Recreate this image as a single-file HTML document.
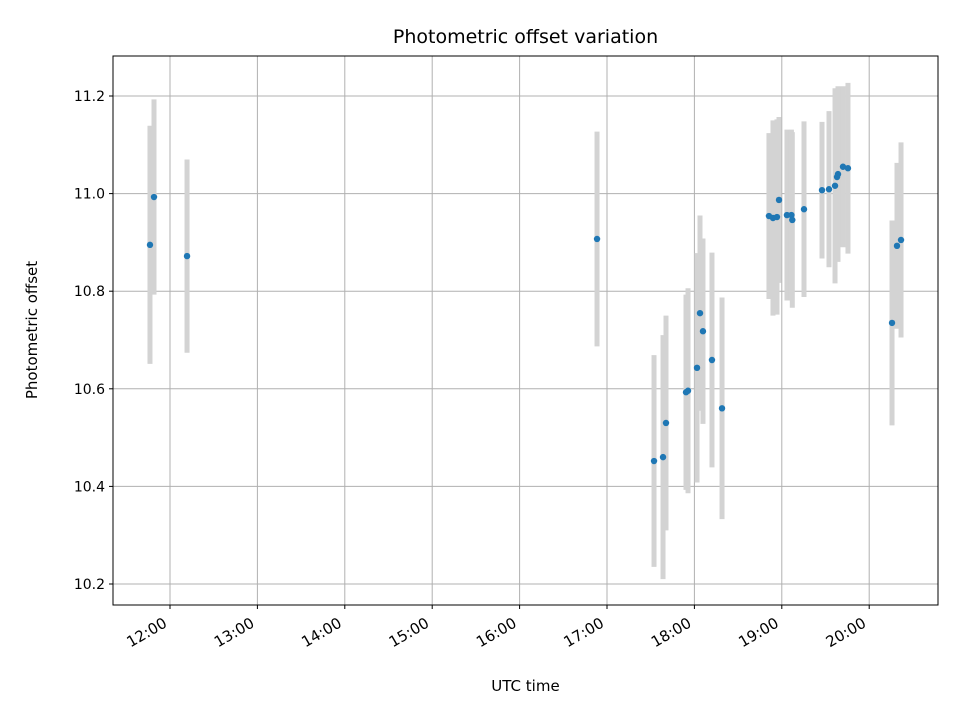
<!DOCTYPE html>
<html><head><meta charset="utf-8"><style>
body{margin:0;background:#fff;}
svg{font-family:"DejaVu Sans","Liberation Sans",sans-serif;}
</style></head><body>
<svg id="chart" width="960" height="720"></svg>
<script>
const times=[11.771,11.817,12.195,16.886,17.538,17.641,17.675,17.904,17.927,18.030,18.064,18.098,18.201,18.316,18.853,18.899,18.945,18.968,19.059,19.11,19.12,19.254,19.460,19.540,19.609,19.632,19.643,19.700,19.757,20.261,20.318,20.364];
const offsets=[10.895,10.993,10.872,10.907,10.452,10.46,10.53,10.593,10.596,10.643,10.755,10.718,10.659,10.56,10.954,10.95,10.952,10.987,10.956,10.956,10.946,10.968,11.007,11.009,11.016,11.034,11.04,11.055,11.052,10.735,10.893,10.905];
const errors=[0.244,0.2,0.198,0.22,0.217,0.25,0.22,0.2,0.21,0.235,0.2,0.19,0.22,0.227,0.17,0.2,0.2,0.17,0.175,0.175,0.18,0.18,0.14,0.16,0.2,0.17,0.18,0.165,0.175,0.21,0.17,0.2];
const yTicks=[10.2,10.4,10.6,10.8,11.0,11.2];
const xTicks=[12,13,14,15,16,17,18,19,20];
const xTickLabels=["12:00","13:00","14:00","15:00","16:00","17:00","18:00","19:00","20:00"];

const L=113,R=938,T=56,B=605;
const X=h=>170+(h-12)*87.4;
const Y=v=>96+(11.2-v)*488;
const svg=document.getElementById('chart');
const NS="http://www.w3.org/2000/svg";
function mk(tag,attrs,parent){const e=document.createElementNS(NS,tag);for(const k in attrs)e.setAttribute(k,attrs[k]);(parent||svg).appendChild(e);return e;}

yTicks.forEach((v,i)=>{
  const g=mk('line',{x1:L,x2:R,y1:Y(v),y2:Y(v),stroke:'#b0b0b0','stroke-width':1});
  
  
  const t=mk('line',{x1:L-4,x2:L,y1:Y(v),y2:Y(v),stroke:'#000'});
  
  
  const lb=mk('text',{x:L-8,y:Y(v)+5,'text-anchor':'end','font-size':14});
  lb.textContent=v.toFixed(1);
  
  
});
xTicks.forEach((h,i)=>{
  const g=mk('line',{x1:X(h),x2:X(h),y1:T,y2:B,stroke:'#b0b0b0','stroke-width':1});
  
  
  const t=mk('line',{x1:X(h),x2:X(h),y1:B,y2:B+4,stroke:'#000'});
  
  
  const ax=X(h)-2, ay=B+21;
  const lb=mk('text',{x:ax,y:ay,'text-anchor':'end','font-size':15,transform:`rotate(-30 ${ax} ${ay})`});
  lb.textContent=xTickLabels[i];
  
  
});
times.forEach((h,i)=>{
  const e=mk('line',{x1:X(h),x2:X(h),y1:Y(offsets[i]+errors[i]),y2:Y(offsets[i]-errors[i]),stroke:'#d3d3d3','stroke-width':5});
  
  
});
times.forEach((h,i)=>{
  const c=mk('circle',{cx:X(h),cy:Y(offsets[i]),r:3.2,fill:'#1f77b4'});
  
  
});
const fr=mk('rect',{x:L,y:T,width:R-L,height:B-T,fill:'none',stroke:'#000','stroke-width':1});


const title=mk('text',{x:(L+R)/2,y:43,'text-anchor':'middle','font-size':19});
title.textContent='Photometric offset variation';


const xt=mk('text',{x:(L+R)/2,y:691,'text-anchor':'middle','font-size':15});
xt.textContent='UTC time';


const yt=mk('text',{x:37,y:330,'text-anchor':'middle','font-size':15,transform:'rotate(-90 37 330)'});
yt.textContent='Photometric offset';


</script>
</body></html>
